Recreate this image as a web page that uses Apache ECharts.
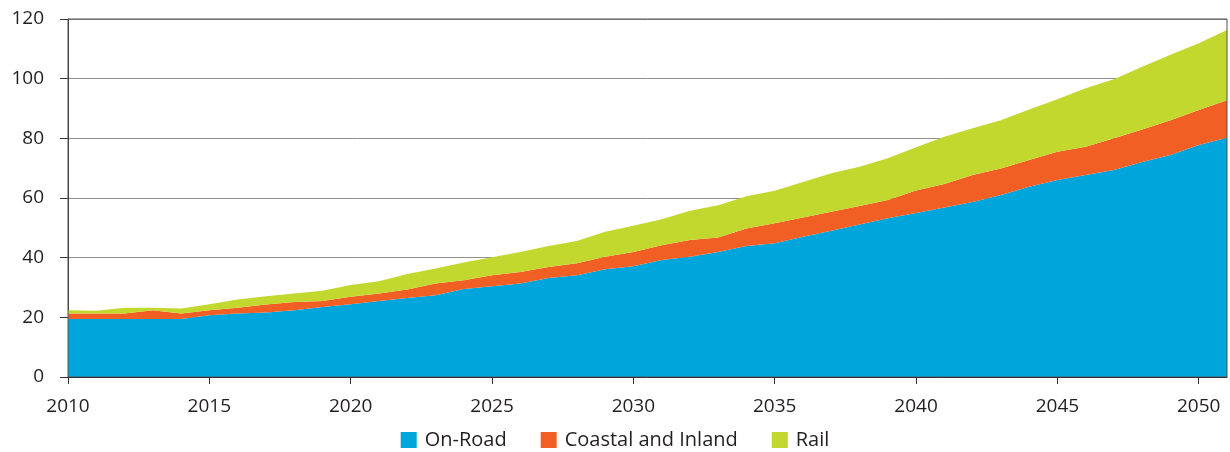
<!DOCTYPE html>
<html><head><meta charset="utf-8">
<script src="https://cdn.jsdelivr.net/npm/echarts@6/dist/echarts.min.js"></script>
<style>html,body{margin:0;padding:0;background:#fff}#c{width:1230px;height:452px}</style>
</head><body><div id="c"></div>
<script>
const years = [];
for (let y = 2010; y <= 2051; y++) years.push(String(y));
const onRoad = [19.4,19.4,19.4,19.4,19.4,20.7,21.3,21.6,22.4,23.5,24.4,25.5,26.5,27.4,29.5,30.4,31.3,33.2,34.1,36.1,37.1,39.2,40.3,41.9,43.9,44.8,47.0,49.0,51.1,53.2,55.0,56.8,58.7,61.0,63.8,66.0,67.7,69.4,72.1,74.4,77.8,80.2];
const coastal = [1.9,1.9,1.9,3.0,1.9,1.7,1.9,2.7,2.7,2.0,2.5,2.5,2.8,3.9,2.9,3.7,3.9,3.7,4.0,4.2,4.8,5.0,5.6,4.9,5.9,6.7,6.5,6.4,6.2,6.1,7.5,7.9,9.0,8.9,8.9,9.5,9.5,10.6,10.9,11.7,11.7,12.6];
const rail = [1.1,0.9,1.9,0.8,1.7,2.0,2.8,2.8,2.9,3.4,3.9,4.1,5.2,5.1,6.0,6.0,6.7,7.0,7.5,8.4,8.8,8.7,9.8,10.8,10.8,10.9,11.9,12.9,13.2,14.0,14.5,15.8,15.7,16.2,17.0,17.6,19.6,19.8,21.0,21.9,22.4,23.5];
const seriesNames = ['On-Road','Coastal and Inland','Rail'];
const colors = ['#00A5DB','#F15F24','#C3D82E'];
const font = "'Open Sans', sans-serif";
const chart = echarts.init(document.getElementById('c'));
const mk = (name, data, color) => ({
  name, type: 'line', stack: 'total', data, symbol: 'none',
  lineStyle: { width: 0 }, areaStyle: { color: color, opacity: 1 }, itemStyle: { color: color }
});
chart.setOption({
  animation: false,
  color: colors,
  grid: { left: 68, right: 3, top: 19, bottom: 75, show: true, borderColor: '#555', borderWidth: 1, z: 5 },
  legend: {
    top: 430, left: 'center', padding: 0, icon: 'rect', itemWidth: 16, itemHeight: 16, itemGap: 34,
    textStyle: { fontFamily: font, fontSize: 20, color: '#231f20', padding: [0, 0, 0, 3] },
    data: seriesNames
  },
  xAxis: {
    type: 'category', data: years, boundaryGap: false,
    axisLine: { lineStyle: { color: '#333', width: 1 } },
    axisTick: { show: true, length: 7, interval: (i) => i % 5 === 0, lineStyle: { color: '#333' } },
    axisLabel: { interval: (i) => i % 5 === 0, margin: 20, fontFamily: font, fontSize: 19, color: '#231f20' },
    splitLine: { show: false }, z: 10
  },
  yAxis: {
    type: 'value', min: 0, max: 120, interval: 20,
    axisLine: { show: true, lineStyle: { color: '#333', width: 1 } },
    axisTick: { show: true, length: 8, lineStyle: { color: '#333' } },
    axisLabel: { margin: 24, fontFamily: font, fontSize: 19, color: '#231f20' },
    splitLine: { show: true, lineStyle: { color: '#8f8f8f', width: 1 } }
  },
  series: [mk(seriesNames[0], onRoad, colors[0]), mk(seriesNames[1], coastal, colors[1]), mk(seriesNames[2], rail, colors[2])]
});
</script></body></html>
